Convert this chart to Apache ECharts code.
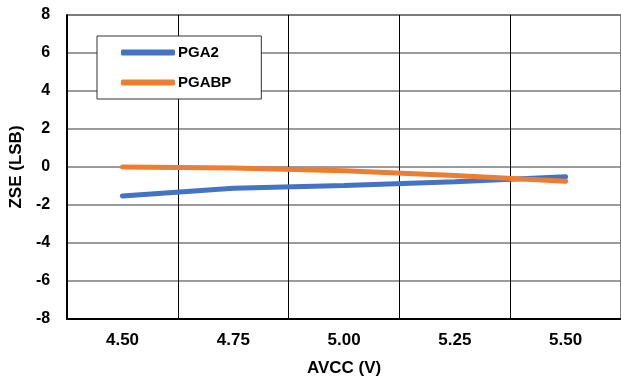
<!DOCTYPE html>
<html><head><meta charset="utf-8">
<script src="https://cdn.jsdelivr.net/npm/echarts@6/dist/echarts.min.js"></script>
<style>html,body{margin:0;padding:0;background:#fff}#c{width:621px;height:385px}</style>
</head><body><div id="c"></div>
<script>
var categories = ['4.50', '4.75', '5.00', '5.25', '5.50'];
var pga2 = [-1.53, -1.12, -0.97, -0.78, -0.51];
var pgabp = [0.0, -0.05, -0.2, -0.45, -0.75];
var seriesNames = ['PGA2', 'PGABP'];
var xName = 'AVCC (V)';
var yName = 'ZSE (LSB)';

var font = 'Liberation Sans, Arial, sans-serif';
var chart = echarts.init(document.getElementById('c'));
chart.setOption({
  animation: false,
  grid: {left: 67, right: -2, top: 15, bottom: 66, show: true, borderColor: '#000', borderWidth: 1},
  legend: {
    left: 97, top: 36, orient: 'vertical',
    backgroundColor: '#fff', borderColor: '#333', borderWidth: 1,
    padding: [9, 30, 9, 24],
    itemWidth: 54, itemHeight: 6, itemGap: 15,
    icon: 'roundRect',
    textStyle: {fontFamily: font, fontWeight: 'bold', fontSize: 15, color: '#000', padding: [0, 0, 0, -2]},
    data: seriesNames
  },
  xAxis: {
    type: 'category', data: categories, boundaryGap: true,
    name: xName, nameLocation: 'middle', nameGap: 41,
    nameTextStyle: {fontFamily: font, fontWeight: 'bold', fontSize: 17, color: '#000'},
    axisLine: {onZero: false, lineStyle: {color: '#000', width: 2}},
    axisTick: {show: false},
    axisLabel: {fontFamily: font, fontWeight: 'bold', fontSize: 17, color: '#000', margin: 13},
    splitLine: {show: true, lineStyle: {color: '#000', width: 1}}
  },
  yAxis: {
    type: 'value', min: -8, max: 8, interval: 2,
    name: yName, nameLocation: 'middle', nameGap: 42,
    nameTextStyle: {fontFamily: font, fontWeight: 'bold', fontSize: 17, color: '#000'},
    axisLine: {show: true, lineStyle: {color: '#000', width: 2}},
    axisTick: {show: false},
    axisLabel: {fontFamily: font, fontWeight: 'bold', fontSize: 16, color: '#000', margin: 17},
    splitLine: {show: true, lineStyle: {color: '#7a7a7a', width: 1.5}}
  },
  series: [
    {name: seriesNames[0], type: 'line', data: pga2, symbol: 'none', smooth: false,
     lineStyle: {color: '#4472C4', width: 5, cap: 'round'}, itemStyle: {color: '#4472C4'}},
    {name: seriesNames[1], type: 'line', data: pgabp, symbol: 'none', smooth: false,
     lineStyle: {color: '#ED7D31', width: 5, cap: 'round'}, itemStyle: {color: '#ED7D31'}}
  ]
});
</script></body></html>
